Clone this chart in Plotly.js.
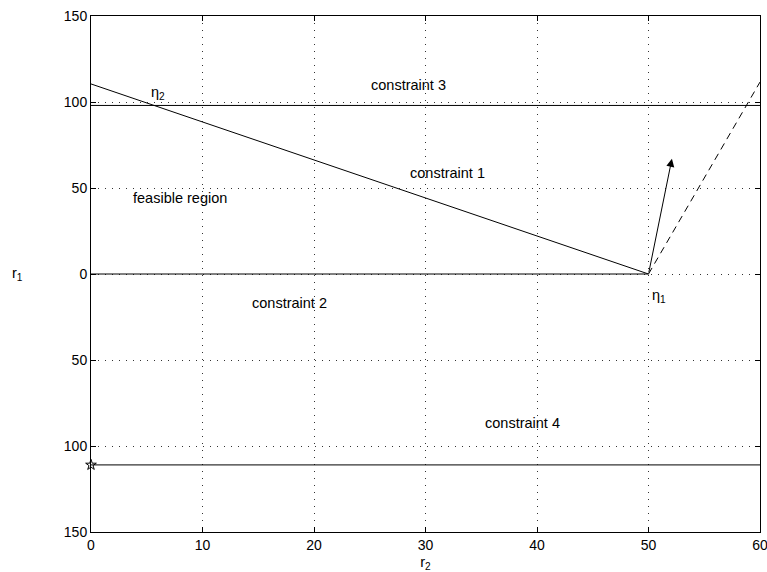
<!DOCTYPE html>
<html>
<head>
<meta charset="utf-8">
<script src="https://cdn.plot.ly/plotly-3.0.1.min.js"></script>
<style>
  html, body { margin: 0; padding: 0; background: #fff; }
  #chart { width: 767px; height: 572px; }
</style>
</head>
<body>
<div id="chart"></div>
<script>
// Constraint boundaries in the (r2, r1) plane
const constraint1X = [0, 50];
const constraint1Y = [110.5, 0];
const constraint2X = [0, 50];
const constraint2Y = [0, 0];
const constraint3X = [0, 60];
const constraint3Y = [98, 98];
const constraint4X = [0, 60];
const constraint4Y = [-111, -111];
const dashedX = [50, 60];
const dashedY = [0, 111.6];
const startX = [0];
const startY = [-111];

// Direction vector drawn from eta_1
const arrowFrom = [50, 0];
const arrowTo = [52.1, 67];

// Axis ticks (r1 labelled by magnitude)
const xTicks = [0, 10, 20, 30, 40, 50, 60];
const yTicks = [150, 100, 50, 0, -50, -100, -150];
const yTickText = ['150', '100', '50', '0', '50', '100', '150'];

// Text labels
const labelText = ['η<sub>2</sub>', 'constraint 3', 'constraint 1', 'feasible region',
                   'constraint 2', 'η<sub>1</sub>', 'constraint 4'];
const labelX = [6.0, 28.5, 32.0, 8.0, 17.8, 50.9, 38.7];
const labelY = [105, 110, 59, 44, -17, -13, -86.5];

const family = 'Liberation Sans, Arial, Helvetica, sans-serif';
const labelFont = { family: family, size: 14.5, color: '#000' };
const tickFont = { family: family, size: 14, color: '#000' };
const lineStyle = { color: '#000', width: 1 };

const traces = [
  { x: constraint1X, y: constraint1Y, mode: 'lines', line: lineStyle },
  { x: constraint2X, y: constraint2Y, mode: 'lines', line: lineStyle },
  { x: constraint3X, y: constraint3Y, mode: 'lines', line: lineStyle },
  { x: constraint4X, y: constraint4Y, mode: 'lines', line: lineStyle },
  { x: dashedX, y: dashedY, mode: 'lines', line: { color: '#000', width: 1, dash: '7px,5px' } },
  { x: startX, y: startY, mode: 'markers', cliponaxis: false,
    marker: { symbol: 'star-open', size: 8, color: '#000', line: { color: '#000', width: 1 } } }
].map(t => Object.assign({ type: 'scatter', showlegend: false, hoverinfo: 'skip' }, t));

const annotations = labelText.map((t, i) => ({
  x: labelX[i], y: labelY[i], xref: 'x', yref: 'y', text: t,
  showarrow: false, font: labelFont, xanchor: 'center', yanchor: 'middle'
}));

annotations.push({
  x: arrowTo[0], y: arrowTo[1], ax: arrowFrom[0], ay: arrowFrom[1],
  xref: 'x', yref: 'y', axref: 'x', ayref: 'y', text: '',
  showarrow: true, arrowhead: 2, arrowsize: 1.6, arrowwidth: 1, arrowcolor: '#000', standoff: 0
});

// r1 axis label sits left of the tick labels
annotations.push({
  x: -0.11, y: 0.5, xref: 'paper', yref: 'paper', text: 'r<sub>1</sub>',
  showarrow: false, font: labelFont, xanchor: 'center', yanchor: 'middle'
});

const axisCommon = {
  showline: true, linecolor: '#000', linewidth: 1, mirror: 'ticks',
  ticks: 'inside', ticklen: 5, tickcolor: '#000', tickwidth: 1,
  showgrid: true, gridcolor: '#333', gridwidth: 1, griddash: '1px,6px',
  zeroline: false, tickfont: tickFont, fixedrange: true, ticklabeloverflow: 'allow'
};

const layout = {
  width: 767, height: 572,
  margin: { l: 91, r: 7, t: 16, b: 40 },
  paper_bgcolor: '#fff', plot_bgcolor: '#fff',
  xaxis: Object.assign({}, axisCommon, {
    range: [0, 60], tickvals: xTicks, ticktext: xTicks.map(String),
    title: { text: 'r<sub>2</sub>', font: labelFont, standoff: 6 }
  }),
  yaxis: Object.assign({}, axisCommon, {
    range: [-150, 150], tickvals: yTicks, ticktext: yTickText
  }),
  annotations: annotations
};

Plotly.newPlot('chart', traces, layout, { staticPlot: true, displayModeBar: false });
</script>
</body>
</html>
